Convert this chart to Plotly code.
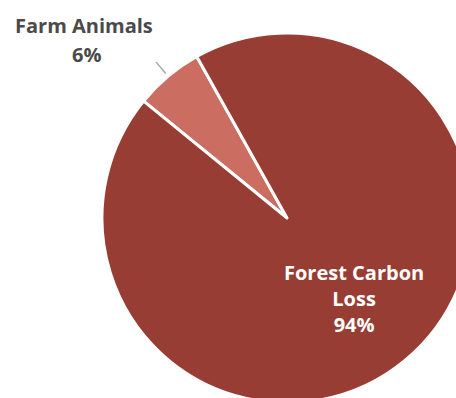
import math
import plotly.graph_objects as go

# Share of emissions by source (percent)
labels = ["Farm Animals", "Forest Carbon Loss"]
label_lines = ["Farm Animals", "Forest Carbon<br>Loss"]
values = [6, 94]
colors = ["#cc6d61", "#983d33"]

W, H = 480, 410           # canvas is a little larger than the view so the pie bleeds off the edges
cx_px, cy_px, r_px = 287, 218, 185
rotation = -50.8          # first slice sits just left of 12 o'clock

dom_x = [(cx_px - r_px) / W, (cx_px + r_px) / W]
dom_y = [1 - (cy_px + r_px) / H, 1 - (cy_px - r_px) / H]

fig = go.Figure(
    go.Pie(
        labels=labels,
        values=values,
        sort=False,
        direction="counterclockwise",
        rotation=rotation,
        marker=dict(colors=colors, line=dict(color="white", width=3)),
        textinfo="none",
        hoverinfo="label+percent",
        domain=dict(x=dom_x, y=dom_y),
        showlegend=False,
    )
)

total = sum(values)
shares = [v / total for v in values]

def paper_pt(angle_deg, k):
    a = math.radians(angle_deg)
    return ((cx_px + k * r_px * math.sin(a)) / W, 1 - (cy_px - k * r_px * math.cos(a)) / H)

# mid-angles (clockwise from 12 o'clock) of each slice
mid_small = rotation + shares[0] * 360 / 2
mid_big = rotation + shares[0] * 360 + shares[1] * 360 / 2

# Leader line for the small slice, along its mid-angle just outside the rim
(x0, y0), (x1, y1) = paper_pt(mid_small, 1.02), paper_pt(mid_small, 1.10)
fig.add_shape(type="line", xref="paper", yref="paper", x0=x0, y0=y0, x1=x1, y1=y1,
              line=dict(color="#a9a9a9", width=1.5))

label_font = dict(family="Open Sans", size=20, weight="bold")

# outside label of the small slice
fig.add_annotation(
    xref="paper", yref="paper", x=84 / W, y=1 - 25.5 / H,
    text=label_lines[0], showarrow=False,
    font=dict(label_font, color="#4a4a4a"),
    xanchor="center", yanchor="middle",
)
fig.add_annotation(
    xref="paper", yref="paper", x=86 / W, y=1 - 54 / H,
    text=f"{values[0]}%", showarrow=False,
    font=dict(label_font, color="#4a4a4a"),
    xanchor="center", yanchor="middle",
)

# inside label of the large slice, along its mid-angle
bx, by = paper_pt(mid_big, 0.565)
fig.add_annotation(
    xref="paper", yref="paper", x=bx, y=by,
    text=f"{label_lines[1]}<br>{values[1]}%", showarrow=False,
    font=dict(label_font, color="white"),
    align="center", xanchor="center", yanchor="middle",
)

fig.update_layout(
    width=W, height=H,
    margin=dict(l=0, r=0, t=0, b=0),
    paper_bgcolor="white",
    plot_bgcolor="white",
)

fig.write_html(
    "out.html",
    post_script="document.documentElement.style.overflow='hidden';"
                "document.body.style.overflow='hidden';document.body.style.margin='0';",
)
